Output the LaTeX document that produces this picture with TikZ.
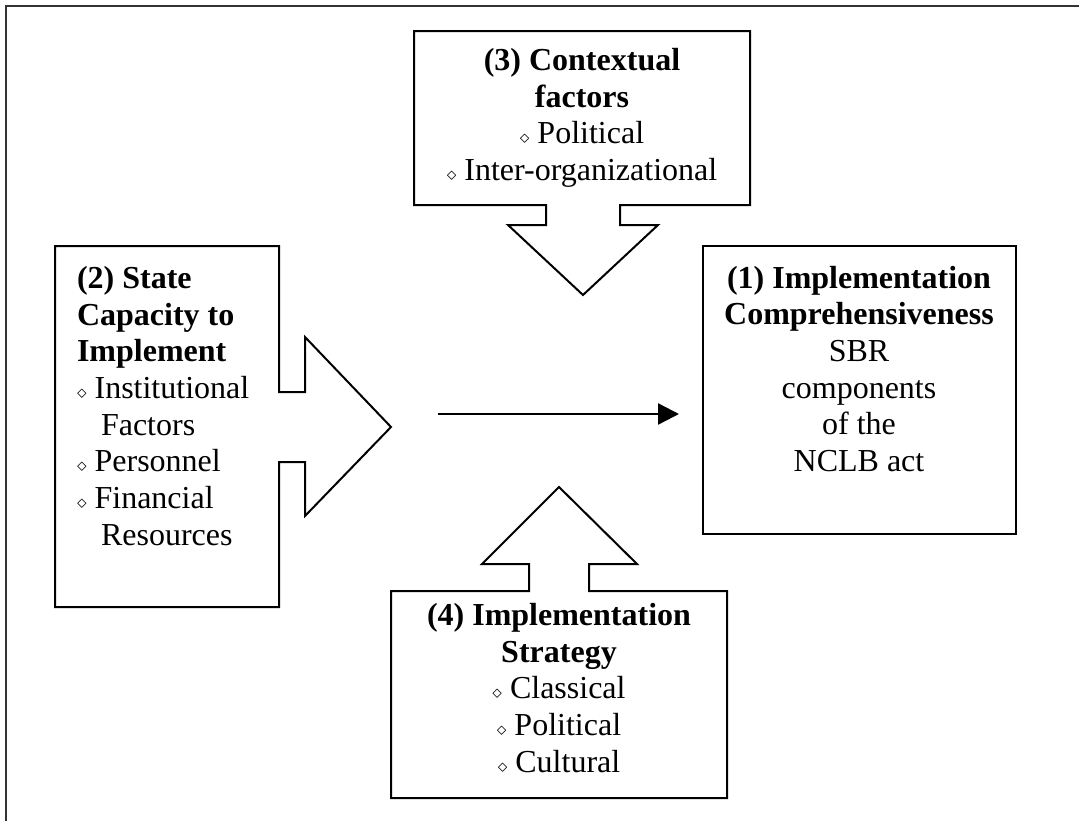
\documentclass[tikz,border=0pt]{standalone}
\usepackage{fontspec}
\setmainfont{Liberation Serif}
\usetikzlibrary{arrows.meta}
\newcommand{\figArrow}{{Triangle[length=15.75pt, width=15.75pt]}}
\newcommand{\dia}{{\fontsize{15}{15}\selectfont$\diamond$}\ }

\begin{document}
\begin{tikzpicture}[x=0.75pt, y=-0.75pt, font=\fontsize{24}{27.5}\selectfont, line width=1.5pt,
	txt/.style={inner sep=0pt, align=center}]
	\useasboundingbox (0,0) rectangle (1079,821);
	
	% frame
	\draw[line width=1.6pt, black!80] (6,821) -- (6,6) -- (1079,6);
	
	% (3) contextual factors
	\draw (414,31) -- (750,31) -- (750,205) -- (620,205) -- (620,225) -- (658,225) -- (583,295)
		-- (508,225) -- (546,225) -- (546,205) -- (414,205) -- cycle;
	\node[txt] (ctx) at (582,118) {\textbf{(3) Contextual}\\ \textbf{factors}\\ \dia Political\\ \dia Inter-organizational};
	
	% (2) state capacity
	\draw (55,246) -- (279,246) -- (279,392) -- (305,392) -- (305,337) -- (391,427) -- (305,516)
		-- (305,462) -- (279,462) -- (279,607) -- (55,607) -- cycle;
	\node[txt, align=left, anchor=west] (cap) at (76,406) {\textbf{(2) State}\\ \textbf{Capacity to}\\ \textbf{Implement}\\
		\dia Institutional\\ \hspace*{18pt}Factors\\ \dia Personnel\\ \dia Financial\\ \hspace*{18pt}Resources};
	
	% (4) implementation strategy
	\draw (391,591) -- (529,591) -- (529,564) -- (482,564) -- (559,487) -- (637,564) -- (589,564)
		-- (589,591) -- (727,591) -- (727,798) -- (391,798) -- cycle;
	\node[txt] (strat) at (559,688) {\textbf{(4) Implementation}\\ \textbf{Strategy}\\ \dia Classical\\ \dia Political\\ \dia Cultural};
	
	% (1) implementation comprehensiveness
	\node[draw, inner sep=0pt, minimum width=234.75pt, minimum height=216pt] (impl) at (859.5,390) {};
	\node[txt] (impltxt) at (859,369) {\textbf{(1) Implementation}\\ \textbf{Comprehensiveness}\\ SBR\\ components\\ of the\\ NCLB act};
	
	\coordinate (from) at (438,414);
	\draw[-\figArrow, line width=1.8pt, shorten >=17.25pt] (from) -- (from -| impl.west);
\end{tikzpicture}
\end{document}
